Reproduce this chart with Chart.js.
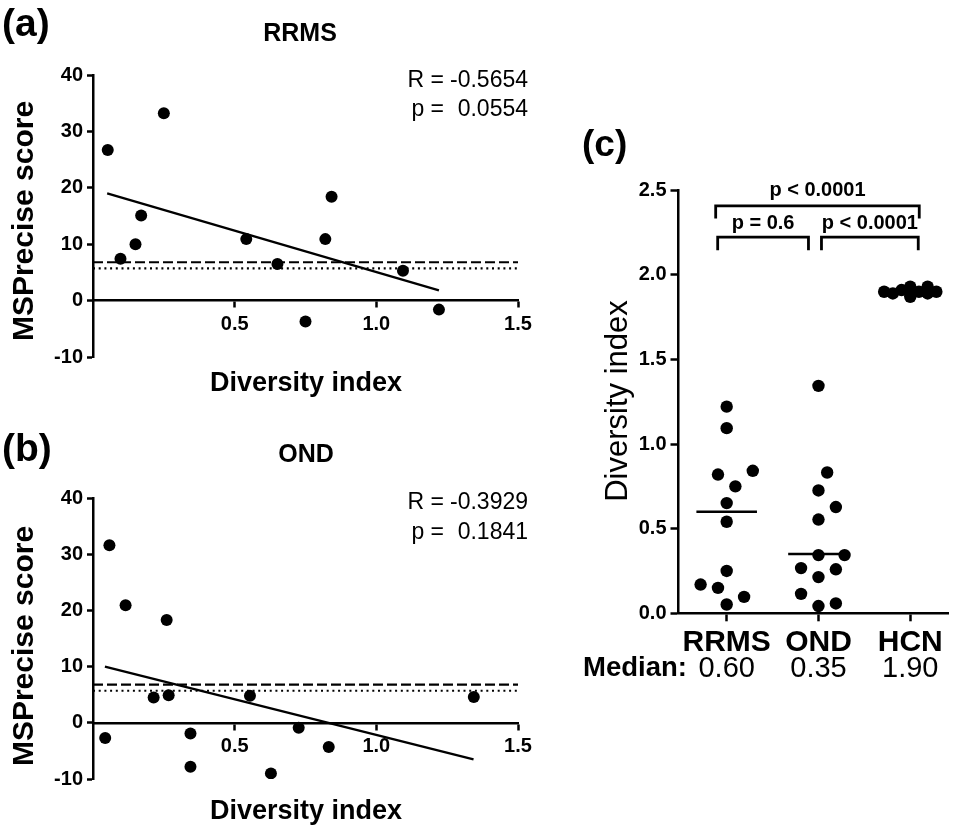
<!DOCTYPE html>
<html><head><meta charset="utf-8">
<script src="https://cdn.jsdelivr.net/npm/chart.js@4.4.1/dist/chart.umd.min.js"></script>
<style>
html,body{margin:0;padding:0;background:#fff;width:955px;height:828px;overflow:hidden;}
canvas{position:absolute;}
</style></head><body>
<canvas id="ca" style="left:0;top:0" width="540" height="410"></canvas>
<canvas id="cb" style="left:0;top:410px" width="540" height="418"></canvas>
<canvas id="cc" style="left:540px;top:100px" width="415" height="620"></canvas>
<script>
// ---------- data ----------
const rrmsDiversity = [0.052, 0.097, 0.150, 0.170, 0.250, 0.541, 0.651, 0.750, 0.820, 0.842, 1.094, 1.221];
const rrmsScore     = [26.7, 7.4, 10.0, 15.1, 33.2, 10.9, 6.5, -3.7, 10.9, 18.4, 5.3, -1.6];
const rrmsFitX = [0.05, 1.221];
const rrmsFitY = [19.0, 1.8];
const ondDiversity = [0.043, 0.058, 0.115, 0.214, 0.260, 0.267, 0.344, 0.344, 0.554, 0.628, 0.726, 0.832, 1.344];
const ondScore     = [-2.7, 31.6, 20.9, 4.5, 18.3, 4.9, -1.9, -7.8, 4.8, -9.0, -0.9, -4.3, 4.6];
const ondFitX = [0.042, 1.343];
const ondFitY = [10.0, -6.5];
const hcnDiversity = [1.87, 1.89, 1.89, 1.90, 1.90, 1.90, 1.91, 1.93, 1.93];
const cutoffLines = [6.8, 5.7];            // dashed, dotted
const scatterXTicks = [0.5, 1.0, 1.5];
const scatterYTicks = [-10, 0, 10, 20, 30, 40];
const groups = ['RRMS', 'OND', 'HCN'];
const medians = [0.60, 0.35, 1.90];
const medianLabels = ['0.60', '0.35', '1.90'];
const dotYTicks = [0, 0.5, 1.0, 1.5, 2.0, 2.5];
const compPairs = [[0, 2], [0, 1], [1, 2]];
const compLabels = ['p < 0.0001', 'p = 0.6', 'p < 0.0001'];
const statsA = ['-0.5654', '0.0554'];
const statsB = ['-0.3929', '0.1841'];

const FONT = "'Liberation Sans', Arial, Helvetica, sans-serif";
Chart.defaults.font.family = FONT;
Chart.defaults.color = '#000';

function textPlugin(items) {
  return { id: 'txt', afterDraw(chart) {
    const ctx = chart.ctx;
    items.forEach(t => {
      ctx.save();
      ctx.font = (t.weight || 'normal') + ' ' + t.size + 'px ' + FONT;
      ctx.fillStyle = '#000';
      ctx.textAlign = t.align || 'center';
      ctx.textBaseline = 'middle';
      ctx.translate(t.x, t.y);
      if (t.rot) ctx.rotate(t.rot);
      ctx.fillText(t.text, 0, 0);
      ctx.restore();
    });
  }};
}

function scatterPanel(id, div, score, fitX, fitY, pad, texts) {
  const pts = div.map((d, i) => ({ x: d, y: score[i] }));
  const fit = fitX.map((x, i) => ({ x: x, y: fitY[i] }));
  const hline = v => [{ x: 0, y: v }, { x: 1.5, y: v }];
  return new Chart(document.getElementById(id), {
    type: 'scatter',
    data: { datasets: [
      { data: pts, pointRadius: 6, pointBackgroundColor: '#000', pointBorderWidth: 0 },
      { data: fit, showLine: true, borderColor: '#000', borderWidth: 2.3, pointRadius: 0 },
      { data: hline(cutoffLines[0]), showLine: true, borderColor: '#000', borderWidth: 2.2, borderDash: [10, 4], pointRadius: 0 },
      { data: hline(cutoffLines[1]), showLine: true, borderColor: '#000', borderWidth: 2.2, borderDash: [2, 3.7], pointRadius: 0 }
    ]},
    options: {
      responsive: false, animation: false, events: [],
      layout: { padding: pad },
      plugins: { legend: { display: false }, tooltip: { enabled: false } },
      scales: {
        x: {
          type: 'linear', min: 0, max: 1.5, position: { y: 0 },
          afterBuildTicks: s => { s.ticks = scatterXTicks.map(v => ({ value: v })); },
          afterFit: s => { s.paddingLeft = 0; s.paddingRight = 0; },
          grid: { display: true, drawOnChartArea: false, drawTicks: true, tickLength: 6, tickWidth: 2.5, tickColor: '#000' },
          border: { display: true, color: '#000', width: 2.5 },
          ticks: { font: { size: 20, weight: 'bold' }, color: '#000', padding: 6, maxRotation: 0, callback: v => v.toFixed(1) }
        },
        y: {
          type: 'linear', min: -10, max: 40,
          afterBuildTicks: s => { s.ticks = scatterYTicks.map(v => ({ value: v })); },
          afterFit: s => { s.width = 55; s.paddingTop = 0; s.paddingBottom = 0; },
          grid: { display: true, drawOnChartArea: false, drawTicks: true, tickLength: 6, tickWidth: 2.5, tickColor: '#000' },
          border: { display: true, color: '#000', width: 2.5 },
          ticks: { font: { size: 20, weight: 'bold' }, color: '#000', padding: 4, callback: v => String(v) }
        }
      }
    },
    plugins: [textPlugin(texts)]
  });
}

// ---------- panel (a) ----------
scatterPanel('ca', rrmsDiversity, rrmsScore, rrmsFitX, rrmsFitY,
  { left: 38, right: 22, top: 75, bottom: 53 },
  [
    { text: '(a)', x: 2, y: 25, size: 39, weight: 'bold', align: 'left' },
    { text: 'RRMS', x: 300, y: 34, size: 25, weight: 'bold' },
    { text: 'MSPrecise score', x: 25, y: 221, size: 30, weight: 'bold', rot: -Math.PI / 2 },
    { text: 'Diversity index', x: 306, y: 384, size: 27, weight: 'bold' },
    { text: 'R =', x: 444, y: 81, size: 23, align: 'right' },
    { text: statsA[0], x: 528, y: 81, size: 23, align: 'right' },
    { text: 'p =', x: 444, y: 110, size: 23, align: 'right' },
    { text: statsA[1], x: 528, y: 110, size: 23, align: 'right' }
  ]);

// ---------- panel (b) ----------
scatterPanel('cb', ondDiversity, ondScore, ondFitX, ondFitY,
  { left: 38, right: 22, top: 88, bottom: 49 },
  [
    { text: '(b)', x: 2, y: 40, size: 39, weight: 'bold', align: 'left' },
    { text: 'OND', x: 306, y: 45, size: 25, weight: 'bold' },
    { text: 'MSPrecise score', x: 25, y: 236, size: 30, weight: 'bold', rot: -Math.PI / 2 },
    { text: 'Diversity index', x: 306, y: 402, size: 27, weight: 'bold' },
    { text: 'R =', x: 444, y: 93, size: 23, align: 'right' },
    { text: statsB[0], x: 528, y: 93, size: 23, align: 'right' },
    { text: 'p =', x: 444, y: 123, size: 23, align: 'right' },
    { text: statsB[1], x: 528, y: 123, size: 23, align: 'right' }
  ]);

// ---------- panel (c) ----------
const groupValues = [rrmsDiversity, ondDiversity, hcnDiversity];

const bracketPlugin = { id: 'brackets', afterDraw(chart) {
  const ctx = chart.ctx, xs = chart.scales.x, ys = chart.scales.y;
  const last = groups.length - 1;
  compPairs.forEach((p, k) => {
    const outer = (p[1] - p[0]) > 1;
    const yTop = ys.getPixelForValue(outer ? 2.407 : 2.223);
    const yEnd = ys.getPixelForValue(outer ? 2.333 : 2.145);
    const yLab = ys.getPixelForValue(outer ? 2.50 : 2.302);
    let x1, x2;
    if (outer) { x1 = xs.getPixelForValue(p[0] + 1) - 11; x2 = xs.getPixelForValue(p[1] + 1) + 9; }
    else {
      x1 = xs.getPixelForValue(p[0] + 1) + (p[0] === 0 ? -9 : 3);
      x2 = xs.getPixelForValue(p[1] + 1) + (p[1] === last ? 8 : -10);
    }
    ctx.save();
    ctx.strokeStyle = '#000'; ctx.lineWidth = 2.8; ctx.lineJoin = 'miter';
    ctx.beginPath(); ctx.moveTo(x1, yEnd); ctx.lineTo(x1, yTop); ctx.lineTo(x2, yTop); ctx.lineTo(x2, yEnd); ctx.stroke();
    ctx.font = 'bold 20px ' + FONT; ctx.fillStyle = '#000'; ctx.textAlign = 'center'; ctx.textBaseline = 'middle';
    ctx.fillText(compLabels[k], (x1 + x2) / 2, yLab);
    ctx.restore();
  });
  // median row
  ctx.save();
  ctx.fillStyle = '#000'; ctx.textBaseline = 'middle';
  ctx.font = 'bold 27.5px ' + FONT; ctx.textAlign = 'right';
  ctx.fillText('Median:', 147, 568);
  ctx.font = '29px ' + FONT; ctx.textAlign = 'center';
  medianLabels.forEach((m, i) => ctx.fillText(m, xs.getPixelForValue(i + 1), 569));
  ctx.restore();
}};

const medianSets = medians.map((m, i) => ({
  data: [{ x: i + 1 - 0.33, y: m }, { x: i + 1 + 0.33, y: m }],
  showLine: true, borderColor: '#000', borderWidth: 2.5, pointRadius: 0
}));
const dotSets = groupValues.map((vals, i) => ({
  data: vals.map(v => ({ x: i + 1, y: v })),
  pointRadius: 6.2, pointBackgroundColor: '#000', pointBorderWidth: 0
}));

const chartC = new Chart(document.getElementById('cc'), {
  type: 'scatter',
  data: { datasets: dotSets.concat(medianSets) },
  options: {
    responsive: false, animation: false, events: [],
    layout: { padding: { left: 88.5, right: 0, top: 90.2, bottom: 46.7 } },
    plugins: { legend: { display: false }, tooltip: { enabled: false } },
    scales: {
      x: {
        type: 'linear', min: 0.475, max: 3.42,
        afterBuildTicks: s => { s.ticks = groups.map((g, i) => ({ value: i + 1 })); },
        afterFit: s => { s.height = 60; s.paddingLeft = 0; s.paddingRight = 0; },
        grid: { display: true, drawOnChartArea: false, drawTicks: true, tickLength: 8, tickWidth: 2.5, tickColor: '#000' },
        border: { display: true, color: '#000', width: 2.5 },
        ticks: { font: { size: 30, weight: 'bold' }, color: '#000', padding: 3, maxRotation: 0, autoSkip: false,
                 callback: v => groups[Math.round(v) - 1] }
      },
      y: {
        type: 'linear', min: 0, max: 2.5,
        afterBuildTicks: s => { s.ticks = dotYTicks.map(v => ({ value: v })); },
        afterFit: s => { s.width = 50; s.paddingTop = 0; s.paddingBottom = 0; },
        grid: { display: true, drawOnChartArea: false, drawTicks: true, tickLength: 8, tickWidth: 2.5, tickColor: '#000' },
        border: { display: true, color: '#000', width: 2.5 },
        ticks: { font: { size: 20, weight: 'bold' }, color: '#000', padding: 4, callback: v => v.toFixed(1) }
      }
    }
  },
  plugins: [bracketPlugin, textPlugin([
    { text: '(c)', x: 42, y: 46, size: 37, weight: 'bold', align: 'left' },
    { text: 'Diversity index', x: 78, y: 301, size: 31, rot: -Math.PI / 2 }
  ])]
});

// swarm layout of the dots around each category position
function swarm(vals, center, xs, ys) {
  const step = 8.7, thr = 18.5, sx = 1.1, maxK = 3;
  const cx = xs.getPixelForValue(center);
  const placed = [];
  const order = vals.map((v, i) => i).sort((a, b) => vals[a] - vals[b]);
  const out = new Array(vals.length);
  order.forEach(i => {
    const py = ys.getPixelForValue(vals[i]);
    const cands = [0];
    for (let k = 1; k <= maxK; k++) cands.push(k, -k);
    let chosen = null, bestD = -1, bestPx = cx;
    for (const k of cands) {
      const px = cx + k * step;
      let minD = Infinity;
      placed.forEach(p => { minD = Math.min(minD, Math.hypot((p.x - px) * sx, p.y - py)); });
      if (minD >= thr) { chosen = px; break; }
      if (minD > bestD) { bestD = minD; bestPx = px; }
    }
    if (chosen === null) chosen = bestPx;
    placed.push({ x: chosen, y: py });
    out[i] = { x: xs.getValueForPixel(chosen), y: vals[i] };
  });
  return out;
}
groupValues.forEach((vals, gi) => {
  chartC.data.datasets[gi].data = swarm(vals, gi + 1, chartC.scales.x, chartC.scales.y);
});
chartC.update('none');
</script>
</body></html>
